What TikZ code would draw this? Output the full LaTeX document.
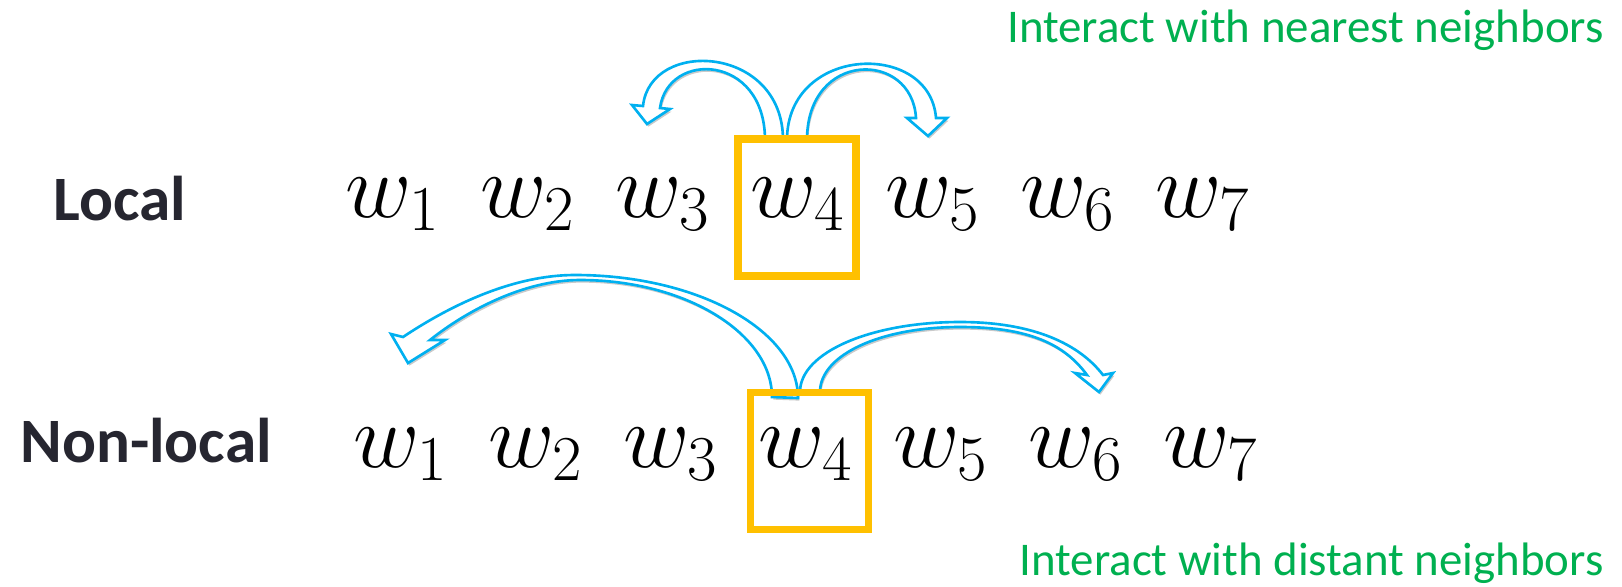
\RequirePackage{fix-cm}
\documentclass[tikz,border=0pt]{standalone}
\usepackage{fontspec}
\newfontfamily\calibri{Carlito}
\usetikzlibrary{shadows}
\definecolor{skyline}{HTML}{00B0F0}
\definecolor{amber}{HTML}{FFC000}
\definecolor{leaf}{HTML}{00B050}
\definecolor{slate}{HTML}{262630}

\begin{document}
\begin{tikzpicture}[x=0.02cm,y=-0.02cm,
  word/.style={inner sep=0pt,anchor=base west,font=\fontsize{52}{56}\selectfont},
  rowlabel/.style={inner sep=0pt,anchor=base west,text=slate,font=\calibri\bfseries\fontsize{36}{40}\selectfont},
  note/.style={inner sep=0pt,anchor=base east,text=leaf,font=\calibri\fontsize{26.7}{30}\selectfont},
  focusbox/.style={draw=amber,line width=4.5pt,minimum width=2.36cm,minimum height=2.74cm,inner sep=0pt},
  blockarrow/.style={draw=skyline,line width=1.5pt,fill=white,line join=miter,
    drop shadow={shadow xshift=0.8pt,shadow yshift=-1.5pt,opacity=0.35,fill=black!60}}]
  \useasboundingbox (0,0) rectangle (1622,586);
  % row labels and notes
  \node[rowlabel] (local) at (53,220) {Local};
  \node[rowlabel] (nonlocal) at (20,462) {Non-local};
  \node[note] (near) at (1604,42) {Interact with nearest neighbors};
  \node[note] (far) at (1604,575) {Interact with distant neighbors};
  % the two word sequences
  \foreach \i in {1,...,7} {
    \node[word] (a\i) at ({345+135*(\i-1)},217) {$w_{\i}$};
    \node[word] (b\i) at ({353+135*(\i-1)},467) {$w_{\i}$};
  }
  % local: curved arrows to the nearest words
  \draw[blockarrow] (783,140) .. controls (783,45) and (650,38) .. (643,106)
    -- (632,105) -- (647,124) -- (670,109) -- (660,108)
    .. controls (668,50) and (765,54) .. (765,140) -- cycle;
  \draw[blockarrow] (787,140) .. controls (787,45) and (930,40) .. (936,118)
    -- (947,118) -- (928,136) -- (907,118) -- (916,118)
    .. controls (912,50) and (807,50) .. (807,140) -- cycle;
  % non-local: curved arrows to distant words
  \draw[blockarrow] (798,398) .. controls (798,331) and (698,275) .. (575,275)
    .. controls (509,275) and (445,309) .. (403,337)
    -- (391,334) -- (408,363) -- (445,340) -- (430,340)
    .. controls (465,312) and (523,280) .. (580,280)
    .. controls (686,280) and (772,334) .. (772,397) -- cycle;
  \draw[blockarrow] (800,392) .. controls (800,352) and (872,322) .. (960,322)
    .. controls (1035,322) and (1080,345) .. (1103,375)
    -- (1113,373) -- (1099,392) -- (1075,373) -- (1087,375)
    .. controls (1065,345) and (1030,327) .. (960,327)
    .. controls (880,327) and (820,355) .. (820,392) -- cycle;
  % highlighted word
  \node[focusbox] (focusa) at (797,207.5) {};
  \node[focusbox] (focusb) at (809.5,461) {};
\end{tikzpicture}
\end{document}
